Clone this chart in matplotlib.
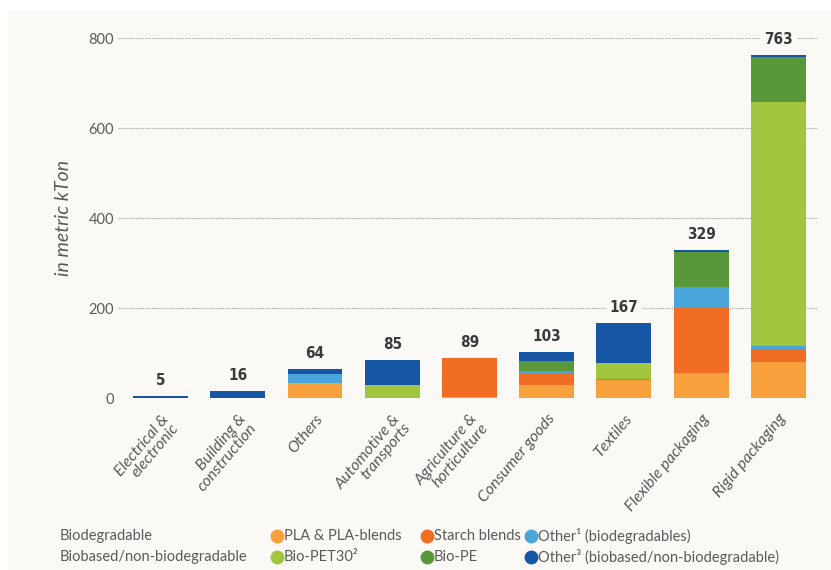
import matplotlib
matplotlib.use("Agg")
import matplotlib.pyplot as plt
from matplotlib.patches import Rectangle
from matplotlib.lines import Line2D
import numpy as np

# market segments (x axis)
segments = ["Electrical &\nelectronic", "Building &\nconstruction", "Others",
            "Automotive &\ntransports", "Agriculture &\nhorticulture",
            "Consumer goods", "Textiles", "Flexible packaging", "Rigid packaging"]

# production capacity per material, in metric kTon
pla = [0, 0, 33, 0, 3, 29, 41, 56, 81]
starch = [0, 0, 0, 0, 85, 27, 2, 143, 28]
other_bio = [0, 0, 20, 0, 1, 3, 0, 47, 7]
bio_pet = [0, 0, 0, 29, 0, 2, 34, 0, 541]
bio_pe = [0, 0, 0, 0, 0, 22, 0, 78, 101]
other_based = [5, 16, 11, 56, 0, 20, 90, 5, 5]
totals = [5, 16, 64, 85, 89, 103, 167, 329, 763]

series = [
    ("PLA & PLA-blends", pla, "#F7A03C"),
    ("Starch blends", starch, "#F26D24"),
    ("Other¹ (biodegradables)", other_bio, "#4AA6DA"),
    ("Bio-PET30²", bio_pet, "#A1C53F"),
    ("Bio-PE", bio_pe, "#58983A"),
    ("Other³ (biobased/non-biodegradable)", other_based, "#1656A5"),
]

bg = "#FAF9F5"
text_grey = "#5A5A5A"
plt.rcParams["font.family"] = ["Lato", "DejaVu Sans"]

fig = plt.figure(figsize=(8.31, 5.70), dpi=100, facecolor="white")
fig.patches.append(Rectangle((8 / 831, 0), 1, 1 - 10 / 570, transform=fig.transFigure,
                             facecolor=bg, edgecolor="none", zorder=-10))
ax = fig.add_axes([118 / 831, 1 - 398 / 570, 699 / 831, 360 / 570])
ax.set_facecolor("none")

x = np.arange(len(segments))
bottom = np.zeros(len(segments))
for name, vals, col in series:
    ax.bar(x, vals, 0.71, bottom=bottom, color=col, edgecolor="none", zorder=3)
    bottom += np.array(vals)

for xi, t in zip(x, totals):
    ax.annotate(str(t), (xi, t), xytext=(0, 11), textcoords="offset points",
                ha="center", va="center", fontsize=11, fontweight="bold",
                family="DejaVu Sans", fontstretch="condensed", color="#3A3A3A",
                bbox=dict(boxstyle="square,pad=0.25", facecolor=bg, edgecolor="none"),
                zorder=4, annotation_clip=False)

ax.set_xlim(-0.55, 8.5)
ax.set_ylim(0, 800)
ax.set_yticks([0, 200, 400, 600, 800])
ax.yaxis.grid(True, color="#A0A0A0", linestyle=(0, (1, 1)), linewidth=0.8, zorder=0)
ax.set_axisbelow(True)
for s in ax.spines.values():
    s.set_visible(False)
ax.tick_params(axis="both", length=0, colors=text_grey, labelsize=10.5)
ax.tick_params(axis="y", pad=3)

ax.set_xticks(x)
ax.set_xticklabels([])
for xi, lab in zip(x, segments):
    ax.annotate(lab, (xi, 0), xytext=(0, -10), textcoords="offset points",
                rotation=50, rotation_mode="anchor", ha="right", va="top",
                multialignment="right", fontsize=11.5, style="italic",
                color=text_grey, linespacing=1.0, annotation_clip=False)

ax.set_ylabel("in metric kTon", fontsize=14, style="italic", color=text_grey, labelpad=12)

# legend rows drawn as text plus round markers
rows = [("Biodegradable", series[:3], 536), ("Biobased/non-biodegradable", series[3:], 557)]
cols_x = [277, 427, 531]
for title, items, ypx in rows:
    yf = 1 - ypx / 570
    fig.text(60 / 831, yf, title, fontsize=10.5, color=text_grey, va="center")
    for cx, (name, vals, col) in zip(cols_x, items):
        fig.add_artist(Line2D([cx / 831], [yf], marker="o", markersize=9,
                              color=col, linestyle="none", transform=fig.transFigure))
        fig.text((cx + 7) / 831, yf, name, fontsize=10.5, color=text_grey, va="center")

fig.savefig("out.png", dpi=100, facecolor=fig.get_facecolor())
